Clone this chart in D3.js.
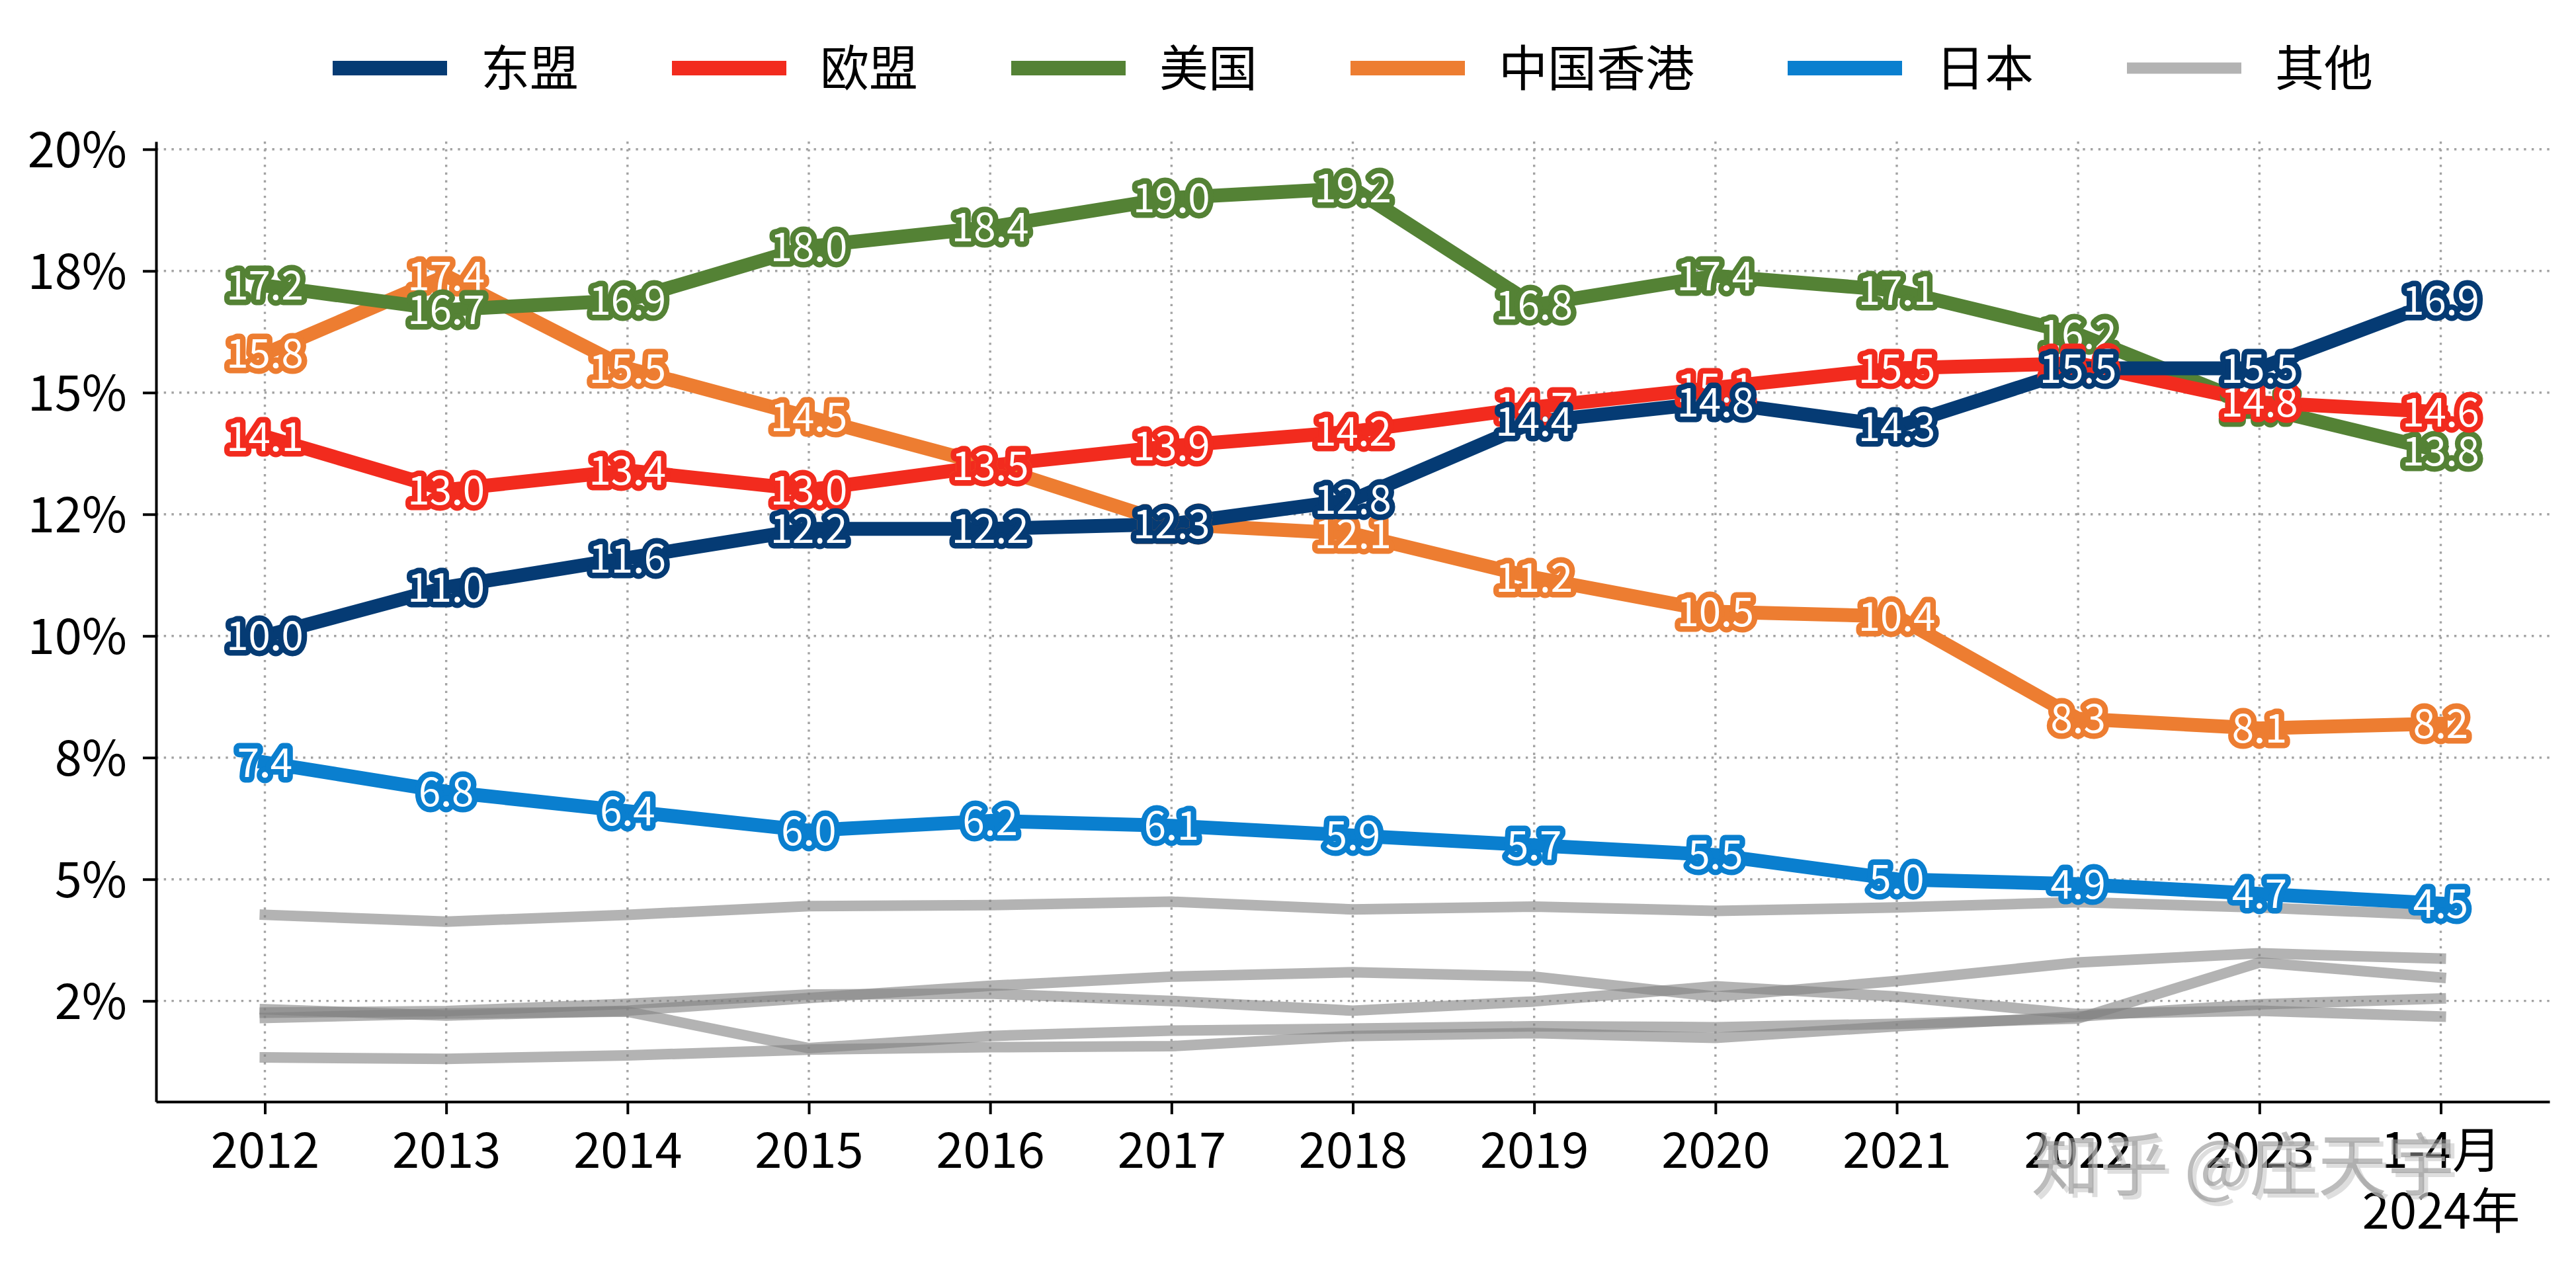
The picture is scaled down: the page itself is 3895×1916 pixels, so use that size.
<!DOCTYPE html>
<html>
<head>
<meta charset="utf-8">
<script src="https://cdn.jsdelivr.net/npm/d3@7"></script>
<style>
  html, body { margin: 0; padding: 0; background: #ffffff; }
  svg { display: block; }
  text { font-family: "Noto Sans CJK SC", "Noto Sans", sans-serif; }
</style>
</head>
<body>
<svg id="chart" width="3895" height="1916"></svg>
<script>
// ---------------- data ----------------
const categories = ["2012","2013","2014","2015","2016","2017","2018","2019","2020","2021","2022","2023","1-4月\n2024年"];

const seriesNames = ["东盟","欧盟","美国","中国香港","日本"];
const asean    = [10.0, 11.0, 11.6, 12.2, 12.2, 12.3, 12.8, 14.4, 14.8, 14.3, 15.5, 15.5, 16.9];
const eu       = [14.1, 13.0, 13.4, 13.0, 13.5, 13.9, 14.2, 14.7, 15.1, 15.5, 15.6, 14.8, 14.6];
const usa      = [17.2, 16.7, 16.9, 18.0, 18.4, 19.0, 19.2, 16.8, 17.4, 17.1, 16.2, 14.7, 13.8];
const hongkong = [15.8, 17.4, 15.5, 14.5, 13.5, 12.3, 12.1, 11.2, 10.5, 10.4, 8.3, 8.1, 8.2];
const japan    = [7.4, 6.8, 6.4, 6.0, 6.2, 6.1, 5.9, 5.7, 5.5, 5.0, 4.9, 4.7, 4.5];

const otherName = "其他";
const other1 = [4.27, 4.13, 4.27, 4.45, 4.47, 4.54, 4.38, 4.44, 4.35, 4.42, 4.53, 4.42, 4.26];
const other2 = [2.33, 2.20, 2.30, 2.56, 2.81, 3.00, 3.09, 3.00, 2.59, 2.91, 3.29, 3.48, 3.37];
const other3 = [2.26, 2.29, 2.44, 2.63, 2.65, 2.50, 2.30, 2.49, 2.80, 2.59, 2.23, 2.30, 2.18];
const other4 = [2.15, 2.24, 2.28, 1.53, 1.78, 1.89, 1.93, 1.98, 1.96, 2.03, 2.14, 3.29, 2.98];
const other5 = [1.34, 1.31, 1.38, 1.50, 1.55, 1.57, 1.78, 1.84, 1.74, 1.98, 2.18, 2.43, 2.55];

const yTickValues = [2.5, 5, 7.5, 10, 12.5, 15, 17.5, 20];
const yTickLabels = ["2%", "5%", "8%", "10%", "12%", "15%", "18%", "20%"];

const watermarkText = "知乎 @庄天宇";

// ---------------- styles ----------------
const colors = ["#053B74", "#F22B1E", "#548235", "#ED7D31", "#0A7FCF"];
const otherColor = "#808080";
const mainSeries = [asean, eu, usa, hongkong, japan];
const otherSeries = [other1, other2, other3, other4, other5];

const W = 3895, H = 1916;
const plot = { left: 236, right: 3855, top: 214, bottom: 1666 };

const svg = d3.select("#chart");
svg.append("rect").attr("width", W).attr("height", H).attr("fill", "#ffffff");

const x = d3.scalePoint().domain(categories).range([plot.left, plot.right]).padding(0.6);
const y = d3.scaleLinear().domain([0.43, 20.16]).range([plot.bottom, plot.top]);

// ---------------- grid ----------------
const grid = svg.append("g");
grid.selectAll("line.v").data(categories).join("line")
  .attr("x1", d => x(d)).attr("x2", d => x(d))
  .attr("y1", plot.top).attr("y2", plot.bottom)
  .attr("stroke", "#a3a3a3").attr("stroke-width", 3.4).attr("stroke-dasharray", "3.4 8.3");
grid.selectAll("line.h").data(yTickValues).join("line")
  .attr("x1", plot.left).attr("x2", plot.right)
  .attr("y1", d => y(d)).attr("y2", d => y(d))
  .attr("stroke", "#a3a3a3").attr("stroke-width", 3.4).attr("stroke-dasharray", "3.4 8.3");

// ---------------- axes ----------------
const yAxis = d3.axisLeft(y).tickValues(yTickValues)
  .tickFormat((d, i) => yTickLabels[i]).tickSize(20).tickSizeOuter(0).tickPadding(24);
const gy = svg.append("g").attr("transform", `translate(${plot.left},0)`).call(yAxis);
gy.select(".domain").attr("stroke", "#000").attr("stroke-width", 4);
gy.selectAll(".tick line").attr("stroke", "#000").attr("stroke-width", 4);
gy.selectAll(".tick text").attr("font-size", 74).attr("fill", "#000")
  .attr("font-family", "'Noto Sans CJK SC', sans-serif").attr("dy", "0.36em");

const xAxis = d3.axisBottom(x).tickSize(19).tickSizeOuter(0).tickPadding(0);
const gx = svg.append("g").attr("transform", `translate(0,${plot.bottom})`).call(xAxis);
gx.select(".domain").attr("stroke", "#000").attr("stroke-width", 4);
gx.selectAll(".tick line").attr("stroke", "#000").attr("stroke-width", 4);
gx.selectAll(".tick text").each(function(d) {
  const t = d3.select(this);
  t.text(null).attr("font-size", 74).attr("fill", "#000").attr("dy", null)
    .attr("y", 100).attr("font-family", "'Noto Sans CJK SC', sans-serif");
  d.split("\n").forEach((part, i) => {
    t.append("tspan").attr("x", 0).attr("y", 100 + i * 92).text(part);
  });
});

// ---------------- lines ----------------
const line = d3.line().x((d, i) => x(categories[i])).y(d => y(d));
const linesG = svg.append("g");
otherSeries.forEach(s => {
  linesG.append("path").datum(s).attr("d", line)
    .attr("fill", "none").attr("stroke", otherColor).attr("stroke-opacity", 0.6)
    .attr("stroke-width", 16).attr("stroke-linejoin", "round").attr("stroke-linecap", "square");
});
for (let k = mainSeries.length - 1; k >= 0; k--) {
  linesG.append("path").datum(mainSeries[k]).attr("d", line)
    .attr("fill", "none").attr("stroke", colors[k])
    .attr("stroke-width", 21).attr("stroke-linejoin", "round").attr("stroke-linecap", "square");
}

// ---------------- value labels ----------------
const fmt = d3.format(".1f");
const labelsG = svg.append("g");
for (let k = mainSeries.length - 1; k >= 0; k--) {
  labelsG.append("g").selectAll("text").data(mainSeries[k]).join("text")
    .attr("x", (d, i) => x(categories[i]))
    .attr("y", d => y(d))
    .attr("dy", "0.36em")
    .attr("text-anchor", "middle")
    .attr("font-size", 60)
    .attr("fill", "#ffffff")
    .attr("stroke", colors[k])
    .attr("stroke-width", 17)
    .attr("stroke-linejoin", "round")
    .style("paint-order", "stroke")
    .text(d => fmt(d));
}

// ---------------- legend ----------------
const legendItems = seriesNames.map((n, i) => ({ name: n, color: colors[i], w: 22, op: 1 }))
  .concat([{ name: otherName, color: otherColor, w: 17, op: 0.6 }]);
const legend = svg.append("g");
const handleW = 173, gapText = 51, gapItem = 141, legendCY = 103;
const items = legend.selectAll("g").data(legendItems).join("g");
items.append("line")
  .attr("x1", 0).attr("x2", handleW).attr("y1", legendCY).attr("y2", legendCY)
  .attr("stroke", d => d.color).attr("stroke-opacity", d => d.op).attr("stroke-width", d => d.w);
items.append("text")
  .attr("x", handleW + gapText).attr("y", legendCY).attr("dy", "0.36em")
  .attr("font-size", 74).attr("fill", "#000").text(d => d.name);
let widths = [];
items.select("text").each(function() { widths.push(this.getComputedTextLength()); });
const total = widths.reduce((a, w) => a + handleW + gapText + w, 0) + gapItem * (widths.length - 1);
let cx = (plot.left + plot.right) / 2 - total / 2;
items.each(function(d, i) {
  d3.select(this).attr("transform", `translate(${cx},0)`);
  cx += handleW + gapText + widths[i] + gapItem;
});

// ---------------- watermark ----------------
svg.append("text").attr("x", 3077).attr("y", 1806)
  .attr("font-size", 104).attr("fill", "#d0d0d0").attr("fill-opacity", 0.7)
  .text(watermarkText);
svg.append("text").attr("x", 3071).attr("y", 1800)
  .attr("font-size", 104).attr("fill", "#8f8f8f").attr("fill-opacity", 0.6)
  .text(watermarkText);
</script>
</body>
</html>
